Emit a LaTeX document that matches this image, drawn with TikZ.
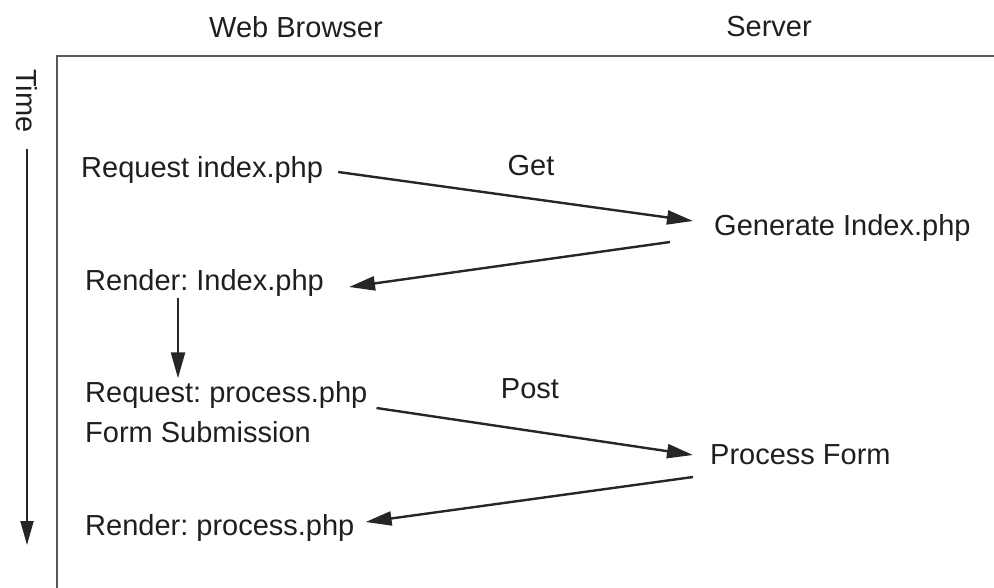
\documentclass[tikz,border=0pt]{standalone}
\usepackage{fontspec}
\setmainfont{Liberation Sans}
\usetikzlibrary{arrows.meta}
\frenchspacing
\begin{document}
\begin{tikzpicture}[x=1pt,y=-1pt,
  lbl/.style={inner sep=0pt, font=\fontsize{29}{34}\selectfont, text=black!88},
  flow/.style={line width=2.4pt, draw=black!85, -{Triangle[length=26pt,width=14pt]}},
  timeline/.style={line width=2pt, draw=black!85, -{Triangle[length=24pt,width=13pt]}},
  frame/.style={line width=2.5pt, draw=black!65}]
\useasboundingbox (0,0) rectangle (994,588);

% column headings and the open frame
\node[lbl] (browser) at (296,27) {Web Browser};
\node[lbl] (server) at (769,27) {Server};
\draw[frame] (994,56) -- (57,56) -- (57,588);

% time axis
\node[lbl, rotate=-90] (time) at (27,101) {Time};
\coordinate (tend) at (27,545);
\draw[timeline] ([yshift=-16pt]time.east) -- (tend);

% browser side
\node[lbl, anchor=west] (req1) at (81,170) {Request index.php};
\node[lbl, anchor=west] (rend1) at (85,283) {Render: Index.php};
\node[lbl, anchor=west] (req2) at (85,395) {Request: process.php};
\node[lbl, anchor=west] (form) at (85,432) {Form Submission};
\node[lbl, anchor=west] (rend2) at (85,528) {Render: process.php};

% server side
\node[lbl, anchor=west] (gen) at (714,228) {Generate Index.php};
\node[lbl, anchor=west] (proc) at (710,455) {Process Form};

% method labels
\node[lbl] (get) at (531,166) {Get};
\node[lbl] (post) at (530,389) {Post};

% messages
\draw[flow] ([xshift=15pt,yshift=-2pt]req1.east) -- ([xshift=-21pt,yshift=7pt]gen.west);
\draw[flow] ([xshift=-44pt,yshift=-14pt]gen.west) -- ([xshift=25pt,yshift=-4pt]rend1.east);
\draw[flow] ([xshift=93pt,yshift=-1pt]rend1.south west) -- ([xshift=93pt,yshift=3pt]req2.north west);
\draw[flow] ([xshift=9pt,yshift=-13pt]req2.east) -- ([xshift=-17pt]proc.west);
\draw[flow] ([xshift=-17pt,yshift=-22pt]proc.west) -- ([xshift=11pt,yshift=6pt]rend2.east);
\end{tikzpicture}
\end{document}
